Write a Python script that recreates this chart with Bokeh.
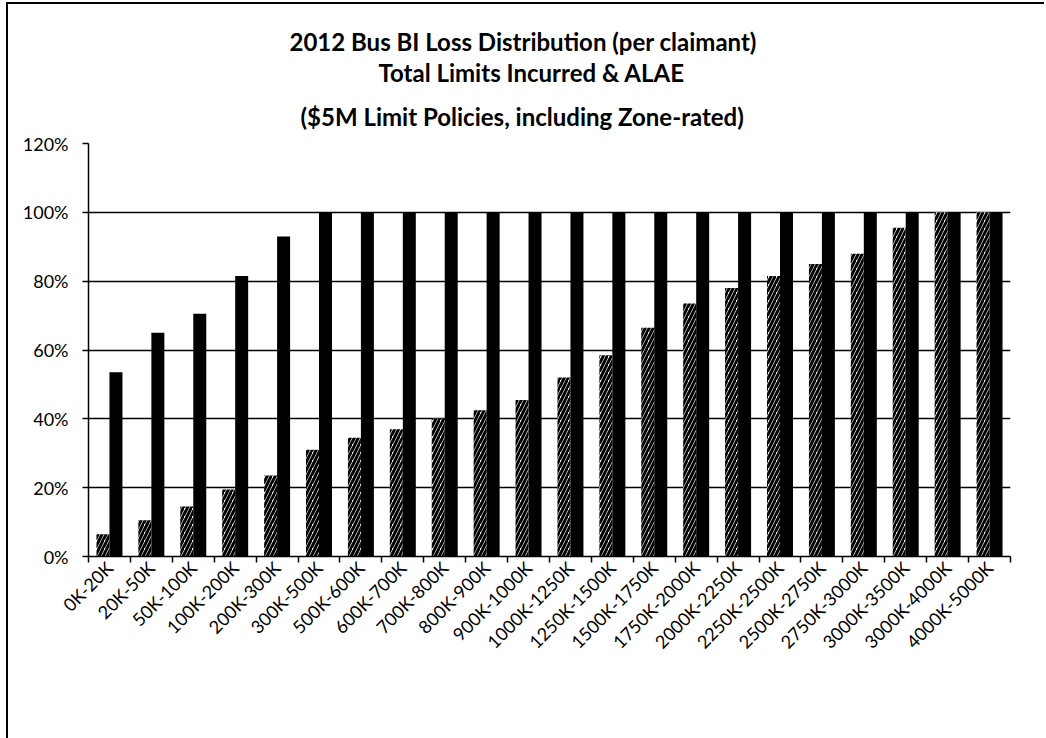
import math
from bokeh.plotting import figure
from bokeh.models import (Range1d, FixedTicker, Title, NumeralTickFormatter,
                          Legend, LegendItem, ColumnDataSource)
from bokeh.transform import dodge
from bokeh.embed import file_html
from bokeh.resources import INLINE

categories = ["0K-20K", "20K-50K", "50K-100K", "100K-200K", "200K-300K", "300K-500K",
              "500K-600K", "600K-700K", "700K-800K", "800K-900K", "900K-1000K",
              "1000K-1250K", "1250K-1500K", "1500K-1750K", "1750K-2000K", "2000K-2250K",
              "2250K-2500K", "2500K-2750K", "2750K-3000K", "3000K-3500K", "3000K-4000K",
              "4000K-5000K"]
residual = [6.5, 10.5, 14.5, 19.5, 23.5, 31, 34.5, 37, 40, 42.5, 45.5,
            52, 58.5, 66.5, 73.5, 78, 81.5, 85, 88, 95.5, 100, 100]
voluntary = [53.5, 65, 70.5, 81.5, 93, 100, 100, 100, 100, 100, 100,
             100, 100, 100, 100, 100, 100, 100, 100, 100, 100, 100]
y_ticks = [0, 0.2, 0.4, 0.6, 0.8, 1.0, 1.2]
title_lines = ["2012 Bus BI Loss Distribution (per claimant)",
               "Total Limits Incurred & ALAE",
               "($5M Limit Policies, including Zone-rated)"]

n = len(categories)
idx = list(range(n))
src = ColumnDataSource(dict(xi=idx, cat=categories,
                            residual=[v / 100 for v in residual],
                            voluntary=[v / 100 for v in voluntary]))

FONT = "Lato"

p = figure(x_range=Range1d(-0.5, n - 0.5), y_range=Range1d(0, 1.2),
           frame_width=922, frame_height=413, margin=(2, 0, 0, 6),
           styles={"border-left": "2px solid black", "border-top": "2px solid black"},
           output_backend="svg", toolbar_location=None,
           min_border_left=80, min_border_right=34, min_border_top=139,
           min_border_bottom=178, outline_line_color=None)

# titles: p.title is outermost; added titles stack outward from the plot
p.title.text = title_lines[0]
p.title.align = "left"
p.title.offset = 201
p.title.standoff = 0
p.title.text_font = FONT
p.title.text_font_style = "bold"
p.title.text_font_size = "24px"
p.title.text_color = "black"
for t, off, so in [(title_lines[2], 212, 26), (title_lines[1], 290, 0)]:
    p.add_layout(Title(text=t, align="left", offset=off, standoff=so, text_font=FONT,
                       text_font_style="bold", text_font_size="24px",
                       text_color="black"), "above")

# y axis
yax = p.yaxis[0]
yax.ticker = FixedTicker(ticks=y_ticks)
yax.formatter = NumeralTickFormatter(format="0%")
yax.minor_tick_line_color = None
yax.major_tick_in = 0
yax.major_tick_out = 6
yax.major_label_standoff = 14
yax.axis_line_color = "black"
yax.axis_line_width = 1.5
yax.major_tick_line_width = 1.5
yax.major_label_text_font = FONT
yax.major_label_text_font_size = "18px"
yax.major_label_text_color = "black"

p.ygrid.grid_line_color = "black"
p.ygrid.grid_line_width = 1.3
p.xgrid.visible = False

# x axis: labels at category centres, tick marks between categories
xax = p.xaxis[0]
xax.ticker = FixedTicker(ticks=idx, minor_ticks=[i - 0.5 for i in range(n + 1)])
xax.major_label_overrides = {i: c for i, c in zip(idx, categories)}
xax.axis_line_color = "black"
xax.axis_line_width = 1.5
xax.major_tick_line_color = None
xax.major_tick_in = 0
xax.major_tick_out = 6
xax.minor_tick_line_color = "black"
xax.minor_tick_line_width = 1.5
xax.minor_tick_in = 0
xax.minor_tick_out = 6
xax.major_label_orientation = math.pi / 4
xax.major_label_standoff = 2
xax.major_label_text_font = FONT
xax.major_label_text_font_size = "18px"
xax.major_label_text_color = "black"

r1 = p.vbar(x=dodge("xi", -0.155), top="residual", width=0.31, source=src,
            fill_color="white", line_color=None, hatch_pattern="/", hatch_color="black",
            hatch_weight=3, hatch_scale=8)
r2 = p.vbar(x=dodge("xi", 0.155), top="voluntary", width=0.31, source=src,
            fill_color="black", line_color=None)

legend = Legend(items=[LegendItem(label="Residual", renderers=[r1]),
                       LegendItem(label="Voluntary", renderers=[r2])],
                orientation="horizontal", location="center",
                border_line_color=None, background_fill_alpha=0,
                label_text_font=FONT, label_text_font_size="23px",
                glyph_width=12, glyph_height=12, spacing=28, padding=5, margin=20)
p.add_layout(legend, "below")

open("out.html", "w").write(file_html(p, INLINE))
